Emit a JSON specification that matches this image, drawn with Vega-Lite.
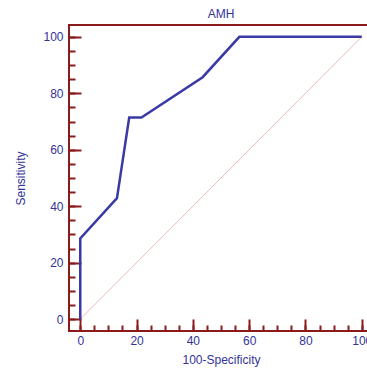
{
  "$schema": "https://vega.github.io/schema/vega-lite/v6.json",
  "autosize": "none",
  "padding": {"left": 69, "top": 25, "right": 0, "bottom": 40},
  "width": 304,
  "height": 306,
  "title": {"text": "AMH", "color": "#333399", "font": "Liberation Sans", "fontSize": 12, "fontWeight": "normal", "offset": 4},
  "config": {
    "view": {"stroke": "#8B1A1A", "strokeWidth": 2},
    "axis": {
      "domain": false,
      "grid": false,
      "tickColor": "#8B1A1A",
      "tickWidth": 2,
      "labelColor": "#333399",
      "labelFont": "Liberation Sans",
      "labelFontSize": 12,
      "titleColor": "#333399",
      "titleFont": "Liberation Sans",
      "titleFontSize": 12,
      "titleFontWeight": "normal"
    }
  },
  "datasets": {
    "roc": [
      {"fpr": 0, "sens": 0},
      {"fpr": 0, "sens": 28.57},
      {"fpr": 13.04, "sens": 42.86},
      {"fpr": 17.39, "sens": 71.43},
      {"fpr": 21.74, "sens": 71.43},
      {"fpr": 43.48, "sens": 85.71},
      {"fpr": 56.52, "sens": 100},
      {"fpr": 100, "sens": 100}
    ],
    "diag": [
      {"fpr": 0, "sens": 0},
      {"fpr": 100, "sens": 100}
    ]
  },
  "resolve": {"axis": {"x": "independent", "y": "independent"}},
  "layer": [
    {
      "data": {"name": "diag"},
      "mark": {"type": "line", "color": "#E4A8A8", "strokeWidth": 0.8},
      "encoding": {
        "x": {
          "field": "fpr", "type": "quantitative",
          "scale": {"domain": [-4, 104], "nice": false, "zero": false},
          "axis": {
            "orient": "bottom",
            "title": null,
            "labels": false,
            "values": [0,5,10,15,20,25,30,35,40,45,50,55,60,65,70,75,80,85,90,95,100],
            "tickSize": -6
          }
        },
        "y": {
          "field": "sens", "type": "quantitative",
          "scale": {"domain": [-4.2, 104.2], "nice": false, "zero": false},
          "axis": {
            "orient": "left",
            "title": null,
            "labels": false,
            "values": [0,5,10,15,20,25,30,35,40,45,50,55,60,65,70,75,80,85,90,95,100],
            "tickSize": -6
          }
        }
      }
    },
    {
      "data": {"name": "roc"},
      "mark": {"type": "line", "color": "#3A3AA6", "strokeWidth": 2.5},
      "encoding": {
        "x": {
          "field": "fpr", "type": "quantitative",
          "scale": {"domain": [-4, 104], "nice": false, "zero": false},
          "axis": {
            "orient": "bottom",
            "title": "100-Specificity",
            "values": [0,20,40,60,80,100],
            "tickSize": -12,
            "labelPadding": 16,
            "titlePadding": 8
          }
        },
        "y": {
          "field": "sens", "type": "quantitative",
          "scale": {"domain": [-4.2, 104.2], "nice": false, "zero": false},
          "axis": {
            "orient": "left",
            "title": "Sensitivity",
            "values": [0,20,40,60,80,100],
            "tickSize": -12,
            "labelPadding": 18,
            "titlePadding": 15
          }
        }
      }
    }
  ]
}
